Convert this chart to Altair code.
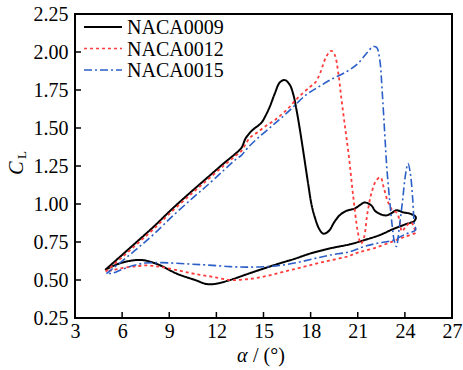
import altair as alt
import pandas as pd

# ---------------- data ----------------
series_names = ["NACA0009", "NACA0012", "NACA0015"]

alpha_0009 = [4.92, 6.0, 7.0, 8.0, 9.26, 10.5, 11.5, 12.5, 13.2, 13.6, 13.85, 14.1, 14.34, 14.87, 15.1,
              15.4, 15.72, 16.04, 16.36, 16.67, 16.9, 17.1, 17.3, 17.52, 17.84, 18.05, 18.26, 18.55,
              18.8, 19.0, 19.22, 19.5, 19.85, 20.28, 20.81, 21.1, 21.44, 21.87, 22.1, 22.4, 22.82,
              23.15, 23.46, 23.88, 24.3, 24.69, 24.62,
              24.0, 23.25, 22.41, 21.5, 20.5, 19.23, 18.0, 17.0, 16.05, 15.0, 14.0, 12.87, 12.0,
              11.4, 10.64, 9.47, 8.41, 7.5, 7.03, 6.3, 5.6, 4.92]
cl_0009 = [0.566, 0.665, 0.757, 0.85, 0.975, 1.09, 1.18, 1.27, 1.33, 1.37, 1.43, 1.465, 1.49, 1.535, 1.575,
           1.64, 1.727, 1.80, 1.815, 1.785, 1.72, 1.62, 1.50, 1.354, 1.135, 1.0, 0.915, 0.835,
           0.805, 0.81, 0.83, 0.88, 0.926, 0.955, 0.97, 0.99, 1.01, 0.99, 0.955, 0.935, 0.925,
           0.94, 0.959, 0.945, 0.937, 0.915, 0.89,
           0.865, 0.835, 0.796, 0.765, 0.735, 0.708, 0.675, 0.64, 0.61, 0.575, 0.54, 0.50, 0.476,
           0.473, 0.50, 0.542, 0.597, 0.628, 0.632, 0.622, 0.60, 0.566]

alpha_0012 = [4.95, 6.0, 7.0, 8.0, 9.26, 10.5, 11.5, 12.5, 13.2, 13.6, 13.95, 14.23, 14.6, 15.1, 15.72,
              16.46, 17.2, 17.95, 18.3, 18.6, 19.0, 19.32, 19.54, 19.75, 19.95, 20.2, 20.45, 20.7,
              21.0, 21.2, 21.4, 21.6, 21.87, 22.19, 22.45, 22.65, 22.9, 23.2, 23.5, 23.7, 23.8,
              24.05, 24.4, 24.6, 24.72,
              24.0, 23.25, 22.0, 21.0, 20.29, 19.2, 18.17, 17.1, 16.05, 15.0, 13.93, 12.87, 11.7,
              10.64, 9.7, 8.5, 7.6, 7.03, 6.18, 5.4, 4.95]
cl_0012 = [0.555, 0.65, 0.742, 0.835, 0.96, 1.075, 1.165, 1.255, 1.315, 1.35, 1.41, 1.445, 1.47, 1.51, 1.552,
           1.618, 1.70, 1.77, 1.80, 1.86, 1.97, 2.008, 1.98, 1.87, 1.70, 1.50, 1.30, 1.06,
           0.82, 0.74, 0.78, 0.93, 1.07, 1.157, 1.175, 1.11, 1.02, 0.96, 0.94, 0.87, 0.82,
           0.85, 0.88, 0.84, 0.815,
           0.785, 0.755, 0.708, 0.68, 0.653, 0.628, 0.603, 0.575, 0.548, 0.522, 0.505, 0.50, 0.522,
           0.54, 0.56, 0.585, 0.596, 0.592, 0.582, 0.565, 0.555]

alpha_0015 = [5.0, 6.0, 7.0, 8.0, 9.26, 10.5, 11.5, 12.5, 13.2, 13.61, 14.0, 14.55, 15.5, 16.46, 17.73,
              18.5, 19.22, 20.28, 21.02, 21.55, 21.97, 22.2, 22.4, 22.55, 22.72, 22.85, 23.03, 23.2,
              23.32, 23.46, 23.65, 23.85, 24.05, 24.2, 24.35, 24.5, 24.6, 24.68,
              24.0, 23.25, 22.2, 21.34, 20.5, 19.23, 18.2, 17.11, 16.0, 14.99, 13.9, 12.87, 11.5,
              10.3, 8.52, 7.5, 6.7, 6.0, 5.4, 5.0]
cl_0015 = [0.542, 0.625, 0.71, 0.80, 0.925, 1.04, 1.13, 1.225, 1.29, 1.322, 1.37, 1.425, 1.51, 1.596, 1.72,
           1.77, 1.815, 1.87, 1.925, 1.99, 2.035, 2.03, 1.95, 1.75, 1.46, 1.24, 1.025, 0.85,
           0.76, 0.72, 0.85, 1.02, 1.20, 1.266, 1.20, 1.03, 0.87, 0.83,
           0.80, 0.762, 0.741, 0.718, 0.686, 0.664, 0.64, 0.614, 0.595, 0.587, 0.585, 0.588, 0.598,
           0.605, 0.614, 0.612, 0.595, 0.57, 0.545, 0.542]

x_ticks = [3, 6, 9, 12, 15, 18, 21, 24, 27]
y_ticks = [0.25, 0.50, 0.75, 1.00, 1.25, 1.50, 1.75, 2.00, 2.25]

colors = ["#000000", "#ff3b3b", "#2b5fc7"]
dashes = [[1, 0], [3, 3], [8, 3, 2, 3]]
widths = [2.0, 1.6, 1.6]

# ---------------- build table ----------------
rows = []
for name, xs, ys in [("NACA0009", alpha_0009, cl_0009),
                     ("NACA0012", alpha_0012, cl_0012),
                     ("NACA0015", alpha_0015, cl_0015)]:
    for i, (a, c) in enumerate(zip(xs, ys)):
        rows.append({"series": name, "alpha": a, "cl": c, "idx": i})
df = pd.DataFrame(rows)

FONT = "Liberation Serif"
W, H = 377, 304

xscale = alt.Scale(domain=[3, 27], nice=False, zero=False)
yscale = alt.Scale(domain=[0.25, 2.25], nice=False, zero=False)
xaxis = alt.Axis(values=x_ticks, title=None, ticks=False, domain=False, grid=False,
                 labelFont=FONT, labelFontSize=20, labelColor="black", labelPadding=3,
                 labelFlush=False, labelOverlap=False, format="d")
yaxis = alt.Axis(values=y_ticks, title=None, ticks=False, domain=False, grid=False,
                 labelFont=FONT, labelFontSize=20, labelColor="black", labelPadding=7,
                 labelFlush=False, labelOverlap=False, format=".2f")

lines = alt.Chart(df).mark_line(interpolate="catmull-rom", clip=True).encode(
    x=alt.X("alpha:Q", scale=xscale, axis=xaxis),
    y=alt.Y("cl:Q", scale=yscale, axis=yaxis),
    color=alt.Color("series:N", scale=alt.Scale(domain=series_names, range=colors), legend=None),
    strokeDash=alt.StrokeDash("series:N", scale=alt.Scale(domain=series_names, range=dashes), legend=None),
    strokeWidth=alt.StrokeWidth("series:N", scale=alt.Scale(domain=series_names, range=widths), legend=None),
    order="idx:Q",
)

# inward ticks
xt = pd.DataFrame({"alpha": x_ticks[1:-1]})
yt = pd.DataFrame({"cl": y_ticks[1:-1]})
xtick_layer = alt.Chart(xt).mark_rule(color="black", strokeWidth=1.5).encode(
    x=alt.X("alpha:Q", scale=xscale, axis=xaxis), y=alt.value(H), y2=alt.value(H - 6))
ytick_layer = alt.Chart(yt).mark_rule(color="black", strokeWidth=1.5).encode(
    y=alt.Y("cl:Q", scale=yscale, axis=yaxis), x=alt.value(0), x2=alt.value(6))

# legend (manual, top-left inside)
one = pd.DataFrame({"k": [0]})
legend_layers = []
for i, name in enumerate(series_names):
    yy = 13 + i * 21.5
    legend_layers.append(alt.Chart(one).mark_rule(color=colors[i], strokeDash=dashes[i],
                                                  strokeWidth=widths[i]).encode(
        x=alt.value(9), x2=alt.value(47), y=alt.value(yy)))
    legend_layers.append(alt.Chart(one).mark_text(font=FONT, fontSize=20, align="left",
                                                  baseline="middle", color="black").encode(
        x=alt.value(52), y=alt.value(yy + 1), text=alt.value(name)))

# axis titles
xt1 = alt.Chart(one).mark_text(font=FONT, fontSize=20, fontStyle="italic", align="left",
                               baseline="alphabetic", color="black").encode(
    x=alt.value(162), y=alt.value(348), text=alt.value("α"))
xt2 = alt.Chart(one).mark_text(font=FONT, fontSize=20, align="left",
                               baseline="alphabetic", color="black").encode(
    x=alt.value(178), y=alt.value(348), text=alt.value("/ (°)"))
yt1 = alt.Chart(one).mark_text(font=FONT, fontSize=20, fontStyle="italic", align="center",
                               baseline="alphabetic", angle=270, color="black").encode(
    x=alt.value(-52), y=alt.value(154), text=alt.value("C"))
yt2 = alt.Chart(one).mark_text(font=FONT, fontSize=13, align="center",
                               baseline="alphabetic", angle=270, color="black").encode(
    x=alt.value(-49), y=alt.value(141), text=alt.value("L"))

chart = alt.layer(lines, xtick_layer, ytick_layer, *legend_layers, xt1, xt2, yt1, yt2).properties(
    width=W, height=H,
    padding={"left": 75, "top": 14, "right": 11, "bottom": 52},
    autosize=alt.AutoSizeParams(type="none"),
    background="white",
).configure_view(stroke="black", strokeWidth=2)

chart.save("out.html", embed_options={"renderer": "svg", "actions": False})
